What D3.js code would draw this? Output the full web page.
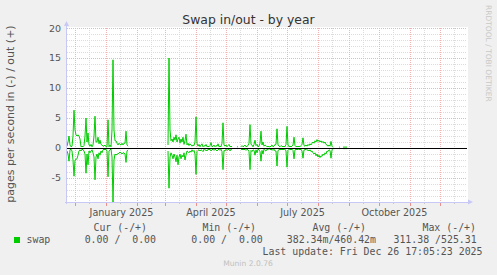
<!DOCTYPE html>
<html><head><meta charset="utf-8">
<script src="https://cdn.jsdelivr.net/npm/d3@7"></script>
<style>
body{margin:0;background:#f0f0f0;overflow:hidden;}
svg text{font-family:"DejaVu Sans",sans-serif;}
svg text.mono{font-family:"DejaVu Sans Mono",monospace;white-space:pre;}
</style></head><body>
<svg id="c" width="497" height="275"></svg>
<script>
// ---------------- data ----------------
const title = "Swap in/out - by year";
const yLabel = "pages per second in (-) / out (+)";
const firstDay = "2024-11-23";           // first daily sample
const lastDay = "2025-12-28";            // right edge of the time axis
const _ = null;                          // no data
// swap out (+), one value per day from firstDay
const outValues = [
  0.3,1.0,2.0,0.5,0.2,0.3,2.0,6.3,3.0,2.2,
  2.0,2.2,2.0,1.5,0.2,0.3,0.2,0.4,2.0,5.0,
  1.0,2.5,0.5,0.3,0.6,0.2,0.5,2.0,5.3,1.0,
  1.0,1.8,0.7,1.3,0.6,0.5,0.3,0.3,0.5,0.2,
  0.2,4.7,0.2,0.5,0.2,3.0,14.7,3.0,1.2,1.2,
  0.8,0.5,0.8,0.6,0.5,0.8,0.5,0.8,0.8,2.8,
  0.5,0.3,_,_,_,_,_,_,_,_,
  _,_,_,_,_,_,_,_,_,_,
  _,_,_,_,_,_,_,_,_,_,
  _,_,_,_,_,_,_,_,_,_,
  _,0.5,15.0,3.0,1.2,1.5,1.0,1.8,1.3,2.2,
  1.0,1.5,1.8,0.8,1.5,1.0,1.8,0.6,1.2,2.3,
  0.5,0.8,0.4,0.7,0.5,0.3,0.5,0.4,1.0,5.2,
  0.8,0.3,0.6,0.2,0.5,0.7,0.2,0.4,0.3,0.6,
  0.2,0.3,0.2,0.4,0.9,0.2,0.3,0.5,0.2,0.4,
  0.3,0.7,0.2,0.3,0.2,0.8,4.2,0.5,0.3,0.5,
  0.2,0.4,0.6,0.2,0.3,0.2,_,_,_,_,
  0.2,0.2,_,_,0.2,0.4,0.2,0.3,0.5,0.2,
  0.3,0.4,0.8,3.9,0.6,0.5,0.2,0.6,1.3,0.4,
  0.6,0.2,0.3,0.8,2.8,0.5,1.0,0.3,0.5,0.4,
  0.2,0.3,0.2,0.2,0.3,0.5,0.2,0.3,0.6,0.6,
  3.2,0.5,0.3,0.2,0.4,0.3,0.2,0.3,0.2,0.6,
  3.6,0.5,0.2,0.3,0.2,0.3,0.5,1.8,0.4,0.2,
  0.3,0.2,0.3,0.2,0.4,0.6,1.7,0.4,0.3,0.5,
  0.3,0.6,0.4,0.7,0.5,0.8,1.0,0.8,1.2,1.0,
  1.4,1.1,1.3,1.0,1.2,0.9,1.1,0.8,1.0,0.6,
  0.5,0.3,0.5,0.3,1.1,0.3,0.1,_,_,_,
  _,_,0.15,0.15,_,_,0.15,0.15,0.15,0.15,
  0.15
];
// swap in (-), one value per day from firstDay
const inValues = [
  -0.5,-1.0,-2.2,-0.3,-0.2,-0.5,-2.0,-4.7,-2.0,-1.9,
  -1.8,-1.2,-0.5,-0.3,-0.5,-0.2,-0.3,-0.5,-1.0,-4.2,
  -1.0,-2.8,-0.5,-0.8,-0.5,-0.3,-0.8,-1.5,-5.3,-1.5,
  -1.0,-1.8,-0.8,-1.2,-0.5,-0.8,-0.3,-0.2,-0.3,-0.2,
  -0.5,-4.8,-0.5,-0.3,-0.2,-1.5,-9.0,-2.0,-1.0,-1.2,
  -1.0,-1.0,-0.8,-0.7,-0.8,-1.0,-0.8,-0.8,-1.0,-2.4,
  -0.5,-0.3,_,_,_,_,_,_,_,_,
  _,_,_,_,_,_,_,_,_,_,
  _,_,_,_,_,_,_,_,_,_,
  _,_,_,_,_,_,_,_,_,_,
  _,-0.5,-6.7,-1.5,-0.8,-1.2,-1.8,-1.0,-1.5,-2.3,
  -1.2,-2.8,-1.5,-1.0,-1.8,-1.2,-1.5,-0.8,-2.0,-1.2,
  -0.5,-0.6,-0.8,-0.5,-0.7,-0.3,-0.6,-0.4,-1.0,-4.4,
  -0.6,-0.4,-0.3,-0.5,-0.3,-0.4,-0.6,-0.2,-0.4,-0.3,
  -0.5,-0.2,-0.3,-0.2,-0.5,-0.3,-0.2,-0.4,-0.2,-0.3,
  -0.5,-0.3,-0.2,-0.4,-0.2,-0.6,-3.6,-0.4,-0.5,-0.2,
  -0.4,-0.3,-0.2,-0.5,-0.2,-0.2,_,_,_,_,
  -0.1,-0.1,_,_,-0.2,-0.3,-0.2,-0.3,-0.2,-0.4,
  -0.2,-0.3,-0.6,-3.6,-0.4,-0.6,-0.3,-0.4,-1.2,-0.3,
  -0.8,-0.2,-0.3,-0.6,-2.2,-0.4,-1.0,-0.2,-0.4,-0.5,
  -0.2,-0.3,-0.1,-0.2,-0.3,-0.2,-0.4,-0.2,-0.5,-0.5,
  -3.0,-0.4,-0.3,-0.2,-0.3,-0.2,-0.3,-0.2,-0.2,-0.5,
  -3.2,-0.4,-0.2,-0.2,-0.3,-0.2,-0.4,-1.8,-0.3,-0.2,
  -0.3,-0.2,-0.2,-0.3,-0.2,-0.5,-1.7,-0.3,-0.3,-0.2,
  -0.4,-0.3,-0.5,-0.3,-0.6,-0.5,-0.8,-1.0,-0.8,-1.3,
  -1.0,-1.5,-1.2,-1.6,-1.3,-1.4,-1.0,-1.2,-0.8,-1.0,
  -0.5,-0.6,-0.3,-0.4,-1.7,-0.3,-0.1,_,_,_,
  _,_,-0.1,-0.1,_,_,-0.1,-0.1,-0.1,-0.1,
  -0.1
];
const yTicks = [20, 15, 10, 5, 0, -5];
const yMin = -9.1667, yMax = 20;
const monthLabels = ["January 2025", "April 2025", "July 2025", "October 2025"];
const monthLabelStarts = ["2025-01-01", "2025-04-01", "2025-07-01", "2025-10-01"];
const legendHeaders = ["Cur (-/+)", "Min (-/+)", "Avg (-/+)", "Max (-/+)"];
const legendValues = ["0.00 /  0.00", "0.00 /  0.00", "382.34m/460.42m", "311.38 /525.31"];
const seriesName = "swap";
const lastUpdate = "Last update: Fri Dec 26 17:05:23 2025";
const footer = "Munin 2.0.76";
const watermark = "RRDTOOL / TOBI OETIKER";

// ---------------- drawing ----------------
const parse = d3.timeParse("%Y-%m-%d");
const svg = d3.select("#c");
const L = 67, R = 467, T = 28, B = 203;
const x = d3.scaleTime().domain([parse(firstDay), parse(lastDay)]).range([L, R]);
const y = d3.scaleLinear().domain([yMin, yMax]).range([B, T]);
const crisp = v => Math.round(v) + 0.5;

const green = "#00cc00", minorCol = "#dcdcdc", majorCol = "#f0b4b4", axisCol = "#c8c8f6";

svg.append("rect").attr("width", 497).attr("height", 275).attr("fill", "#f0f0f0");
svg.append("rect").attr("x", L).attr("y", T - 1).attr("width", R - L + 1).attr("height", B - T + 1).attr("fill", "#fff");

// minor horizontal grid
const minorY = d3.range(Math.ceil(yMin), yMax).filter(v => v % 5 !== 0);
svg.append("g").selectAll("line").data(minorY).join("line")
  .attr("x1", L).attr("x2", R).attr("y1", d => crisp(y(d))).attr("y2", d => crisp(y(d)))
  .attr("stroke", minorCol).attr("stroke-dasharray", "1,1");

// minor vertical grid (mid month)
const months = d3.timeMonth.range(d3.timeMonth.floor(parse(firstDay)), parse(lastDay));
const mids = months.map(m => d3.timeDay.offset(m, 14)).filter(d => x(d) > L && x(d) < R);
svg.append("g").selectAll("line").data(mids).join("line")
  .attr("x1", d => crisp(x(d))).attr("x2", d => crisp(x(d))).attr("y1", T).attr("y2", B)
  .attr("stroke", minorCol).attr("stroke-dasharray", "1,1");

// major grid
const monthStarts = months.filter(d => x(d) > L && x(d) < R);
svg.append("g").selectAll("line").data(monthStarts).join("line")
  .attr("x1", d => crisp(x(d))).attr("x2", d => crisp(x(d))).attr("y1", T).attr("y2", B)
  .attr("stroke", majorCol).attr("stroke-dasharray", "1,1");
svg.append("g").selectAll("line").data(yTicks).join("line")
  .attr("x1", L).attr("x2", R).attr("y1", d => crisp(y(d))).attr("y2", d => crisp(y(d)))
  .attr("stroke", majorCol).attr("stroke-dasharray", "1,1");

// x ticks on axis
svg.append("g").selectAll("line").data(monthStarts).join("line")
  .attr("x1", d => crisp(x(d))).attr("x2", d => crisp(x(d))).attr("y1", B - 1).attr("y2", B + 3)
  .attr("stroke", "#e89090");
svg.append("g").selectAll("line").data(mids).join("line")
  .attr("x1", d => crisp(x(d))).attr("x2", d => crisp(x(d))).attr("y1", B - 1).attr("y2", B + 1)
  .attr("stroke", "#c8c8c8");

// series
const day = i => d3.timeDay.offset(parse(firstDay), i);
function drawSeries(vals) {
  const pts = vals.map((v, i) => ({v, i}));
  const ln = d3.line().defined(d => d.v != null).x(d => x(day(d.i))).y(d => y(d.v));
  svg.append("path").attr("d", ln(pts)).attr("fill", "none").attr("stroke", green).attr("stroke-width", 1);
}
drawSeries(outValues);
drawSeries(inValues);

// zero line
svg.append("line").attr("x1", L).attr("x2", R).attr("y1", crisp(y(0))).attr("y2", crisp(y(0)))
  .attr("stroke", "#000");

// axes
svg.append("line").attr("x1", crisp(L) - 1).attr("x2", crisp(L) - 1).attr("y1", T - 4).attr("y2", B + 1).attr("stroke", axisCol);
svg.append("line").attr("x1", L - 2).attr("x2", R + 2).attr("y1", crisp(B) - 1).attr("y2", crisp(B) - 1).attr("stroke", axisCol);
svg.append("path").attr("d", `M${L - 3},${T - 2}L${L + 2},${T - 2}L${L - 0.5},${T - 7}Z`).attr("fill", axisCol);
svg.append("path").attr("d", `M${R + 1},${B - 3.5}L${R + 1},${B + 1.5}L${R + 6},${B - 1}Z`).attr("fill", axisCol);

// y tick labels
svg.append("g").selectAll("text").data(yTicks).join("text")
  .attr("x", 61).attr("y", d => y(d) + 3.5).attr("text-anchor", "end")
  .attr("font-size", "9.5px").attr("fill", "#555").text(d => d);

// x labels (centred on the month)
svg.append("g").selectAll("text").data(monthLabels).join("text")
  .attr("x", (d, i) => {
    const s = parse(monthLabelStarts[i]);
    return (x(s) + x(d3.timeMonth.offset(s, 1))) / 2;
  })
  .attr("y", 216).attr("text-anchor", "middle").attr("font-size", "9.6px").attr("fill", "#555").text(d => d);

// title
svg.append("text").attr("x", 248.5).attr("y", 23.5).attr("text-anchor", "middle")
  .attr("font-size", "12.4px").attr("fill", "#333").text(title);

// y label
svg.append("text").attr("transform", `translate(13.5,114) rotate(-90)`).attr("text-anchor", "middle")
  .attr("font-size", "11px").attr("fill", "#555").text(yLabel);

// watermark
svg.append("text").attr("transform", `translate(485.5,5) rotate(90)`).attr("text-anchor", "start")
  .attr("font-size", "7.5px").attr("fill", "#c8c8c8").text(watermark);

// legend
const colEnds = [147, 256, 366, 476];
const valEnds = [156, 262.7, 376, 476.7];
svg.append("g").selectAll("text").data(legendHeaders).join("text").attr("class", "mono")
  .attr("x", (d, i) => colEnds[i]).attr("y", 230.5).attr("text-anchor", "end")
  .attr("font-size", "9.9px").attr("fill", "#555").text(d => d);
svg.append("g").selectAll("text").data(legendValues).join("text").attr("class", "mono")
  .attr("x", (d, i) => valEnds[i]).attr("y", 243).attr("text-anchor", "end")
  .attr("font-size", "9.9px").attr("fill", "#555").text(d => d);
svg.append("rect").attr("x", 14).attr("y", 237).attr("width", 6).attr("height", 6).attr("fill", green);
svg.append("text").attr("class", "mono").attr("x", 26.5).attr("y", 243)
  .attr("font-size", "9.9px").attr("fill", "#555").text(seriesName);
svg.append("text").attr("class", "mono").attr("x", 482.5).attr("y", 255).attr("text-anchor", "end")
  .attr("font-size", "9.9px").attr("fill", "#555").text(lastUpdate);
svg.append("text").attr("x", 248).attr("y", 266).attr("text-anchor", "middle")
  .attr("font-size", "7.6px").attr("fill", "#c0c0c0").text(footer);
</script>
</body></html>
